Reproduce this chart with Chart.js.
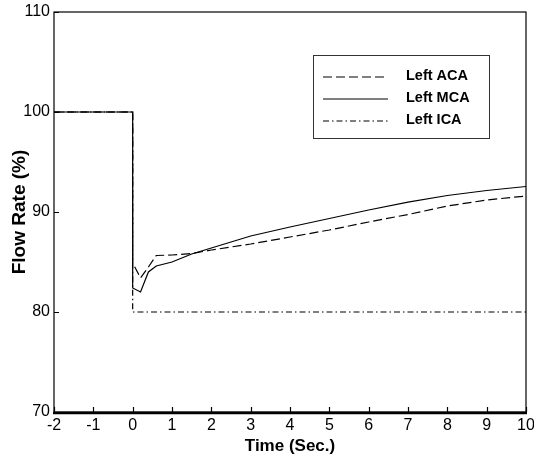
<!DOCTYPE html>
<html>
<head>
<meta charset="utf-8">
<script src="https://cdn.jsdelivr.net/npm/chart.js@4/dist/chart.umd.min.js"></script>
<style>
  html, body { margin: 0; padding: 0; background: #fff; }
  #wrap { width: 534px; height: 456px; }
</style>
</head>
<body>
<div id="wrap"><canvas id="graficoFluxo" width="534" height="456"></canvas></div>
<script>
// tempo (s) e fluxo (%) de cada artéria
const tempo = [-2, 0, 0, 0.2, 0.4, 0.6, 1, 1.5, 2, 3, 4, 5, 6, 7, 8, 9, 10];
const fluxoACA = [100, 100, 84.9, 83.4, 84.5, 85.65, 85.7, 85.85, 86.2, 86.8, 87.5, 88.2, 89.0, 89.75, 90.6, 91.2, 91.6];
const fluxoMCA = [100, 100, 82.4, 82.0, 84.0, 84.6, 85.0, 85.8, 86.4, 87.6, 88.5, 89.35, 90.2, 90.98, 91.65, 92.15, 92.55];
const fluxoICA = [100, 100, 80, 80, 80, 80, 80, 80, 80, 80, 80, 80, 80, 80, 80, 80, 80];
const nomes = ['Left ACA', 'Left MCA', 'Left ICA'];
const ticksX = [-2, -1, 0, 1, 2, 3, 4, 5, 6, 7, 8, 9, 10];
const ticksY = [70, 80, 90, 100, 110];

const fonteNum = "'Liberation Sans', Arial, sans-serif";
const fonteTit = "'Liberation Sans', Arial, sans-serif";

const pontos = serie => tempo.map((t, i) => ({ x: t, y: serie[i] }));

// moldura, marcas internas e legenda em caixa
const molduraPlugin = {
  id: 'moldura',
  afterDatasetsDraw(chart) {
    const { ctx, chartArea: a, scales } = chart;
    ctx.save();
    ctx.strokeStyle = '#000';
    ctx.lineWidth = 1.2;
    ctx.strokeRect(a.left, a.top, a.right - a.left, a.bottom - a.top);
    ctx.lineWidth = 2.6;
    ctx.beginPath();
    ctx.moveTo(a.left - 1, a.bottom + 1);
    ctx.lineTo(a.right + 1, a.bottom + 1);
    ctx.stroke();

    ctx.lineWidth = 1.2;
    ctx.beginPath();
    ticksX.forEach(v => {
      const px = Math.round(scales.x.getPixelForValue(v)) + 0.5;
      ctx.moveTo(px, a.bottom);
      ctx.lineTo(px, a.bottom - 5);
    });
    ticksY.forEach(v => {
      const py = Math.round(scales.y.getPixelForValue(v)) + 0.5;
      ctx.moveTo(a.left, py);
      ctx.lineTo(a.left + 5, py);
    });
    ctx.stroke();

    // legenda
    const bx = 313, by = 55, bw = 176, bh = 83;
    ctx.fillStyle = '#fff';
    ctx.fillRect(bx, by, bw, bh);
    ctx.strokeStyle = '#333';
    ctx.lineWidth = 1;
    ctx.strokeRect(bx + 0.5, by + 0.5, bw, bh);
    chart.data.datasets.forEach((ds, i) => {
      const ly = by + 22 + i * 22;
      ctx.strokeStyle = ds.borderColor;
      ctx.lineWidth = ds.borderWidth;
      ctx.setLineDash(ds.borderDash || []);
      ctx.beginPath();
      ctx.moveTo(bx + 10, ly);
      ctx.lineTo(bx + 75, ly);
      ctx.stroke();
      ctx.setLineDash([]);
      ctx.fillStyle = '#000';
      ctx.font = 'bold 14.5px ' + fonteTit;
      ctx.textBaseline = 'middle';
      ctx.fillText(ds.label, bx + 93, ly - 1);
    });
    ctx.restore();
  }
};

const ctx = document.getElementById('graficoFluxo').getContext('2d');
new Chart(ctx, {
  type: 'line',
  data: {
    datasets: [
      { label: nomes[0], data: pontos(fluxoACA), borderColor: '#000', borderWidth: 1.2, borderDash: [9, 4] },
      { label: nomes[1], data: pontos(fluxoMCA), borderColor: '#000', borderWidth: 1.2 },
      { label: nomes[2], data: pontos(fluxoICA), borderColor: '#000', borderWidth: 1.2, borderDash: [6, 3, 1.5, 3] }
    ]
  },
  options: {
    responsive: false,
    animation: false,
    elements: { point: { radius: 0 }, line: { tension: 0, fill: false } },
    layout: { padding: { top: 12, right: 8, left: 0, bottom: 0 } },
    plugins: { legend: { display: false }, tooltip: { enabled: false } },
    scales: {
      x: {
        type: 'linear',
        min: -2,
        max: 10,
        afterBuildTicks: s => { s.ticks = ticksX.map(v => ({ value: v })); },
        afterFit: s => { s.height = 44; s.paddingLeft = 0; s.paddingRight = 0; },
        grid: { display: false, drawTicks: false },
        border: { display: false },
        ticks: { color: '#000', padding: 4, maxRotation: 0, font: { family: fonteNum, size: 16 } },
        title: { display: true, text: 'Time (Sec.)', color: '#000', padding: { top: 0, bottom: -1 }, font: { family: fonteTit, size: 17, weight: 'bold' } }
      },
      y: {
        min: 70,
        max: 110,
        afterBuildTicks: s => { s.ticks = ticksY.map(v => ({ value: v })); },
        afterFit: s => { s.width = 54; s.paddingTop = 0; s.paddingBottom = 0; },
        grid: { display: false, drawTicks: false },
        border: { display: false },
        ticks: { color: '#000', padding: 4, font: { family: fonteNum, size: 16 } },
        title: { display: true, text: 'Flow Rate (%)', color: '#000', padding: { top: 8, bottom: 0 }, font: { family: fonteTit, size: 19, weight: 'bold' } }
      }
    }
  },
  plugins: [molduraPlugin]
});
</script>
</body>
</html>
